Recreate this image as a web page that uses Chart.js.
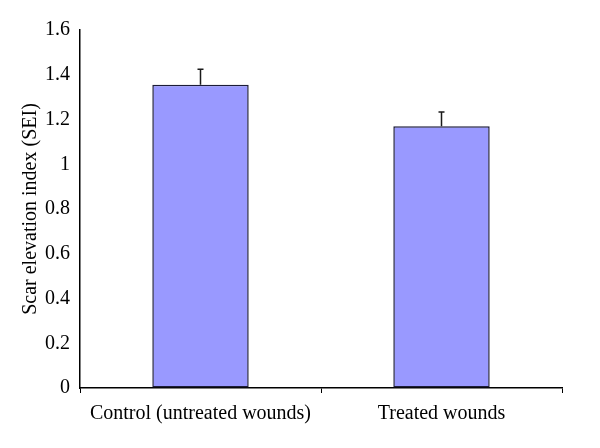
<!DOCTYPE html>
<html>
<head>
<meta charset="utf-8">
<script src="https://cdn.jsdelivr.net/npm/chart.js@4"></script>
<style>
  body { margin: 0; background: #fff; }
</style>
</head>
<body>
<canvas id="seiChart" width="600" height="448"></canvas>
<script>
// values
const categories = ['Control (untreated wounds)', 'Treated wounds'];
const seiValues = [1.355, 1.17];
const seiErrors = [0.07, 0.063]; // upper error only
const yMin = 0;
const yMax = 1.6;
const yStep = 0.2;

const FONT = '"Liberation Serif", "DejaVu Serif", serif';

// simple upward error bars, drawn from the y scale
const errorBars = {
  id: 'errorBars',
  afterDatasetsDraw(chart) {
    const ctx = chart.ctx;
    const meta = chart.getDatasetMeta(0);
    const y = chart.scales.y;
    ctx.save();
    ctx.strokeStyle = '#1a1a1a';
    ctx.lineWidth = 1.5;
    meta.data.forEach((bar, i) => {
      const top = y.getPixelForValue(seiValues[i] + seiErrors[i]);
      const base = y.getPixelForValue(seiValues[i]);
      ctx.beginPath();
      ctx.moveTo(bar.x, base);
      ctx.lineTo(bar.x, top);
      ctx.moveTo(bar.x - 3, top);
      ctx.lineTo(bar.x + 3, top);
      ctx.stroke();
    });
    ctx.restore();
  }
};

new Chart(document.getElementById('seiChart'), {
  type: 'bar',
  data: {
    labels: categories,
    datasets: [{
      data: seiValues,
      backgroundColor: '#9999ff',
      borderColor: '#1c1c38',
      borderWidth: 1.5,
      borderSkipped: false,
      categoryPercentage: 1,
      barPercentage: 0.4
    }]
  },
  options: {
    responsive: false,
    animation: false,
    layout: { padding: { top: 30, right: 38, left: 0, bottom: 0 } },
    plugins: {
      legend: { display: false },
      tooltip: { enabled: false }
    },
    scales: {
      x: {
        offset: true,
        grid: {
          offset: true,
          drawOnChartArea: false,
          drawTicks: true,
          tickLength: 5,
          color: '#000'
        },
        border: { color: '#000', width: 1.5 },
        ticks: {
          color: '#000',
          padding: 9,
          font: { family: FONT, size: 20 }
        },
        afterFit(scale) { scale.height = 60; }
      },
      y: {
        min: yMin,
        max: yMax,
        grid: { display: true, drawOnChartArea: false, drawTicks: false },
        border: { color: '#000', width: 1.5 },
        ticks: {
          stepSize: yStep,
          color: '#000',
          padding: 10,
          font: { family: FONT, size: 20 },
          callback: (v) => String(Math.round(v * 10) / 10)
        },
        title: {
          display: true,
          text: 'Scar elevation index (SEI)',
          color: '#000',
          padding: { top: 19, bottom: 0 },
          font: { family: FONT, size: 20 }
        },
        afterFit(scale) { scale.width = 80; }
      }
    }
  },
  plugins: [errorBars]
});
</script>
</body>
</html>
